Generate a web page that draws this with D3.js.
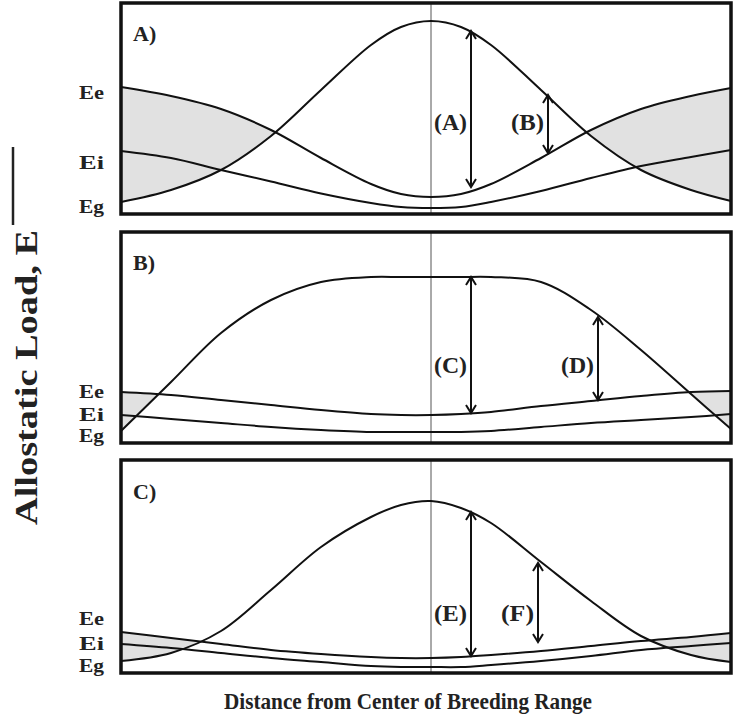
<!DOCTYPE html>
<html>

<head>
  <meta charset="utf-8">
  <title>Allostatic Load</title>
  <script src="https://d3js.org/d3.v7.min.js"></script>
  <style>
    body { margin: 0; background: #fff; }
    text { font-family: "Liberation Serif", "Times New Roman", serif; font-weight: bold; fill: #222; }
  </style>
</head>

<body>
  <div id='view'></div>
  <script>
    // distance from the centre of the breeding range (arbitrary units)
    var distance = [-31, -26, -21, -16, -11, -6, -3, 0, 3, 6, 11, 16, 21, 26, 30];

    // panel A
    var egA = [1.2, 2.4, 4.4, 7.8, 12.4, 16.9, 18.7, 19.3, 18.7, 16.9, 12.4, 7.8, 4.4, 2.4, 1.3];
    var eeA = [12.7, 11.8, 10.5, 8.4, 5.6, 3.0, 2.0, 1.7, 2.0, 3.0, 5.6, 8.4, 10.5, 11.8, 12.6];
    var eiA = [6.3, 5.6, 4.4, 3.25, 2.05, 1.1, 0.7, 0.6, 0.7, 1.2, 2.3, 3.6, 4.8, 5.7, 6.4];
    // panel B
    var egB = [1.2, 6.1, 11.0, 14.3, 16.1, 16.6, 16.6, 16.6, 16.6, 16.6, 16.1, 13.3, 9.3, 4.9, 1.4];
    var eeB = [5.1, 4.8, 4.3, 3.8, 3.3, 2.9, 2.8, 2.8, 2.9, 3.1, 3.7, 4.2, 4.7, 5.1, 5.2];
    var eiB = [2.8, 2.4, 2.0, 1.6, 1.3, 1.1, 1.1, 1.1, 1.1, 1.2, 1.6, 2.0, 2.3, 2.6, 2.9];
    // panel C
    var egC = [1.2, 2.0, 4.2, 8.3, 12.6, 15.6, 16.8, 17.2, 16.5, 15.0, 11.1, 7.2, 3.7, 1.8, 1.1];
    var eeC = [4.1, 3.5, 2.9, 2.3, 1.9, 1.6, 1.5, 1.5, 1.6, 1.8, 2.2, 2.7, 3.2, 3.6, 4.0];
    var eiC = [2.9, 2.5, 2.0, 1.5, 1.1, 0.7, 0.6, 0.6, 0.6, 0.8, 1.2, 1.7, 2.3, 2.7, 3.0];

    var panelNames = ["A)", "B)", "C)"];
    var levelNames = ["Ee", "Ei", "Eg"];

    // difference arrows
    var arrowPanel = [0, 0, 1, 1, 2, 2];
    var arrowLabel = ["(A)", "(B)", "(C)", "(D)", "(E)", "(F)"];
    var arrowDist = [4, 11.7, 4, 16.7, 4, 10.7];
    var arrowTop = [18.3, 11.9, 16.6, 12.6, 16.1, 11.0];
    var arrowBottom = [2.7, 6.1, 3.0, 4.3, 1.7, 3.1];

    var series = [
      { eg: egA, ee: eeA, ei: eiA },
      { eg: egB, ee: eeB, ei: eiB },
      { eg: egC, ee: eeC, ei: eiC }
    ];

    var width = 738;
    var height = 717;

    // layout
    var panels = [
      { top: 3, h: 211, labelY: 41, levelY: [99, 169, 213], arrowTextY: 122 },
      { top: 232, h: 211, labelY: 270, levelY: [398, 421, 442], arrowTextY: 365 },
      { top: 460, h: 213, labelY: 499, levelY: [625, 650, 672], arrowTextY: 613 }
    ];

    var svg = d3.select("#view")
      .append("svg")
      .attr("width", width)
      .attr("height", height);

    var x = d3.scaleLinear()
      .domain([-31, 30])
      .range([121, 731]);

    var curve = d3.curveCatmullRom.alpha(0.5);
    var defs = svg.append("defs");

    panels.forEach(function (p, i) {
      var y = d3.scaleLinear()
        .domain([0, p.h / 10])
        .range([p.top + p.h, p.top]);
      var s = series[i];
      var pts = distance.map(function (d, k) {
        return { d: d, eg: s.eg[k], ee: s.ee[k], ei: s.ei[k] };
      });

      // clip: everything below the Ee curve
      defs.append("clipPath")
        .attr("id", "below-ee-" + i)
        .append("path")
        .attr("d", d3.area()
          .curve(curve)
          .x(function (q) { return x(q.d); })
          .y0(p.top + p.h)
          .y1(function (q) { return y(q.ee); })(pts));

      var g = svg.append("g");

      // shaded region where Ee lies above Eg
      g.append("path")
        .attr("d", d3.area()
          .curve(curve)
          .x(function (q) { return x(q.d); })
          .y0(function (q) { return y(q.eg); })
          .y1(p.top)(pts))
        .attr("clip-path", "url(#below-ee-" + i + ")")
        .attr("fill", "#e1e1e1");

      // centre line
      g.append("line")
        .attr("x1", x(0)).attr("x2", x(0))
        .attr("y1", p.top).attr("y2", p.top + p.h)
        .attr("stroke", "#555")
        .attr("stroke-width", 1);

      ["eg", "ee", "ei"].forEach(function (key) {
        g.append("path")
          .attr("d", d3.line()
            .curve(curve)
            .x(function (q) { return x(q.d); })
            .y(function (q) { return y(q[key]); })(pts))
          .attr("fill", "none")
          .attr("stroke", "#111")
          .attr("stroke-width", 2);
      });

      // arrows in this panel
      arrowPanel.forEach(function (ap, k) {
        if (ap !== i) return;
        var ax = x(arrowDist[k]);
        var y1 = y(arrowTop[k]);
        var y2 = y(arrowBottom[k]);
        g.append("path")
          .attr("d", "M" + ax + "," + y1 + "V" + y2 +
            "M" + (ax - 5) + "," + (y1 + 8) + "L" + ax + "," + y1 + "L" + (ax + 5) + "," + (y1 + 8) +
            "M" + (ax - 5) + "," + (y2 - 8) + "L" + ax + "," + y2 + "L" + (ax + 5) + "," + (y2 - 8))
          .attr("fill", "none")
          .attr("stroke", "#111")
          .attr("stroke-width", 2);
        g.append("text")
          .attr("x", ax - 4)
          .attr("y", p.arrowTextY)
          .attr("dy", "0.35em")
          .attr("text-anchor", "end")
          .attr("font-size", 23)
          .attr("textLength", 33)
          .attr("lengthAdjust", "spacingAndGlyphs")
          .text(arrowLabel[k]);
      });

      // frame
      g.append("rect")
        .attr("x", 121).attr("y", p.top)
        .attr("width", 610).attr("height", p.h)
        .attr("fill", "none")
        .attr("stroke", "#111")
        .attr("stroke-width", 3.5);

      g.append("text")
        .attr("x", 133)
        .attr("y", p.labelY)
        .attr("font-size", 22)
        .text(panelNames[i]);

      levelNames.forEach(function (n, k) {
        g.append("text")
          .attr("x", 104)
          .attr("y", p.levelY[k])
          .attr("text-anchor", "end")
          .attr("font-size", 19)
          .attr("textLength", 25)
          .attr("lengthAdjust", "spacingAndGlyphs")
          .text(n);
      });
    });

    // axis titles
    svg.append("text")
      .attr("transform", "translate(37,525) rotate(-90)")
      .attr("font-size", 32)
      .attr("textLength", 295)
      .attr("lengthAdjust", "spacingAndGlyphs")
      .text("Allostatic Load, E");

    svg.append("line")
      .attr("x1", 13).attr("x2", 13)
      .attr("y1", 147).attr("y2", 225)
      .attr("stroke", "#222")
      .attr("stroke-width", 2.5);

    svg.append("text")
      .attr("x", 224)
      .attr("y", 709)
      .attr("font-size", 23)
      .attr("textLength", 368)
      .attr("lengthAdjust", "spacingAndGlyphs")
      .text("Distance from Center of Breeding Range");
  </script>
</body>

</html>
